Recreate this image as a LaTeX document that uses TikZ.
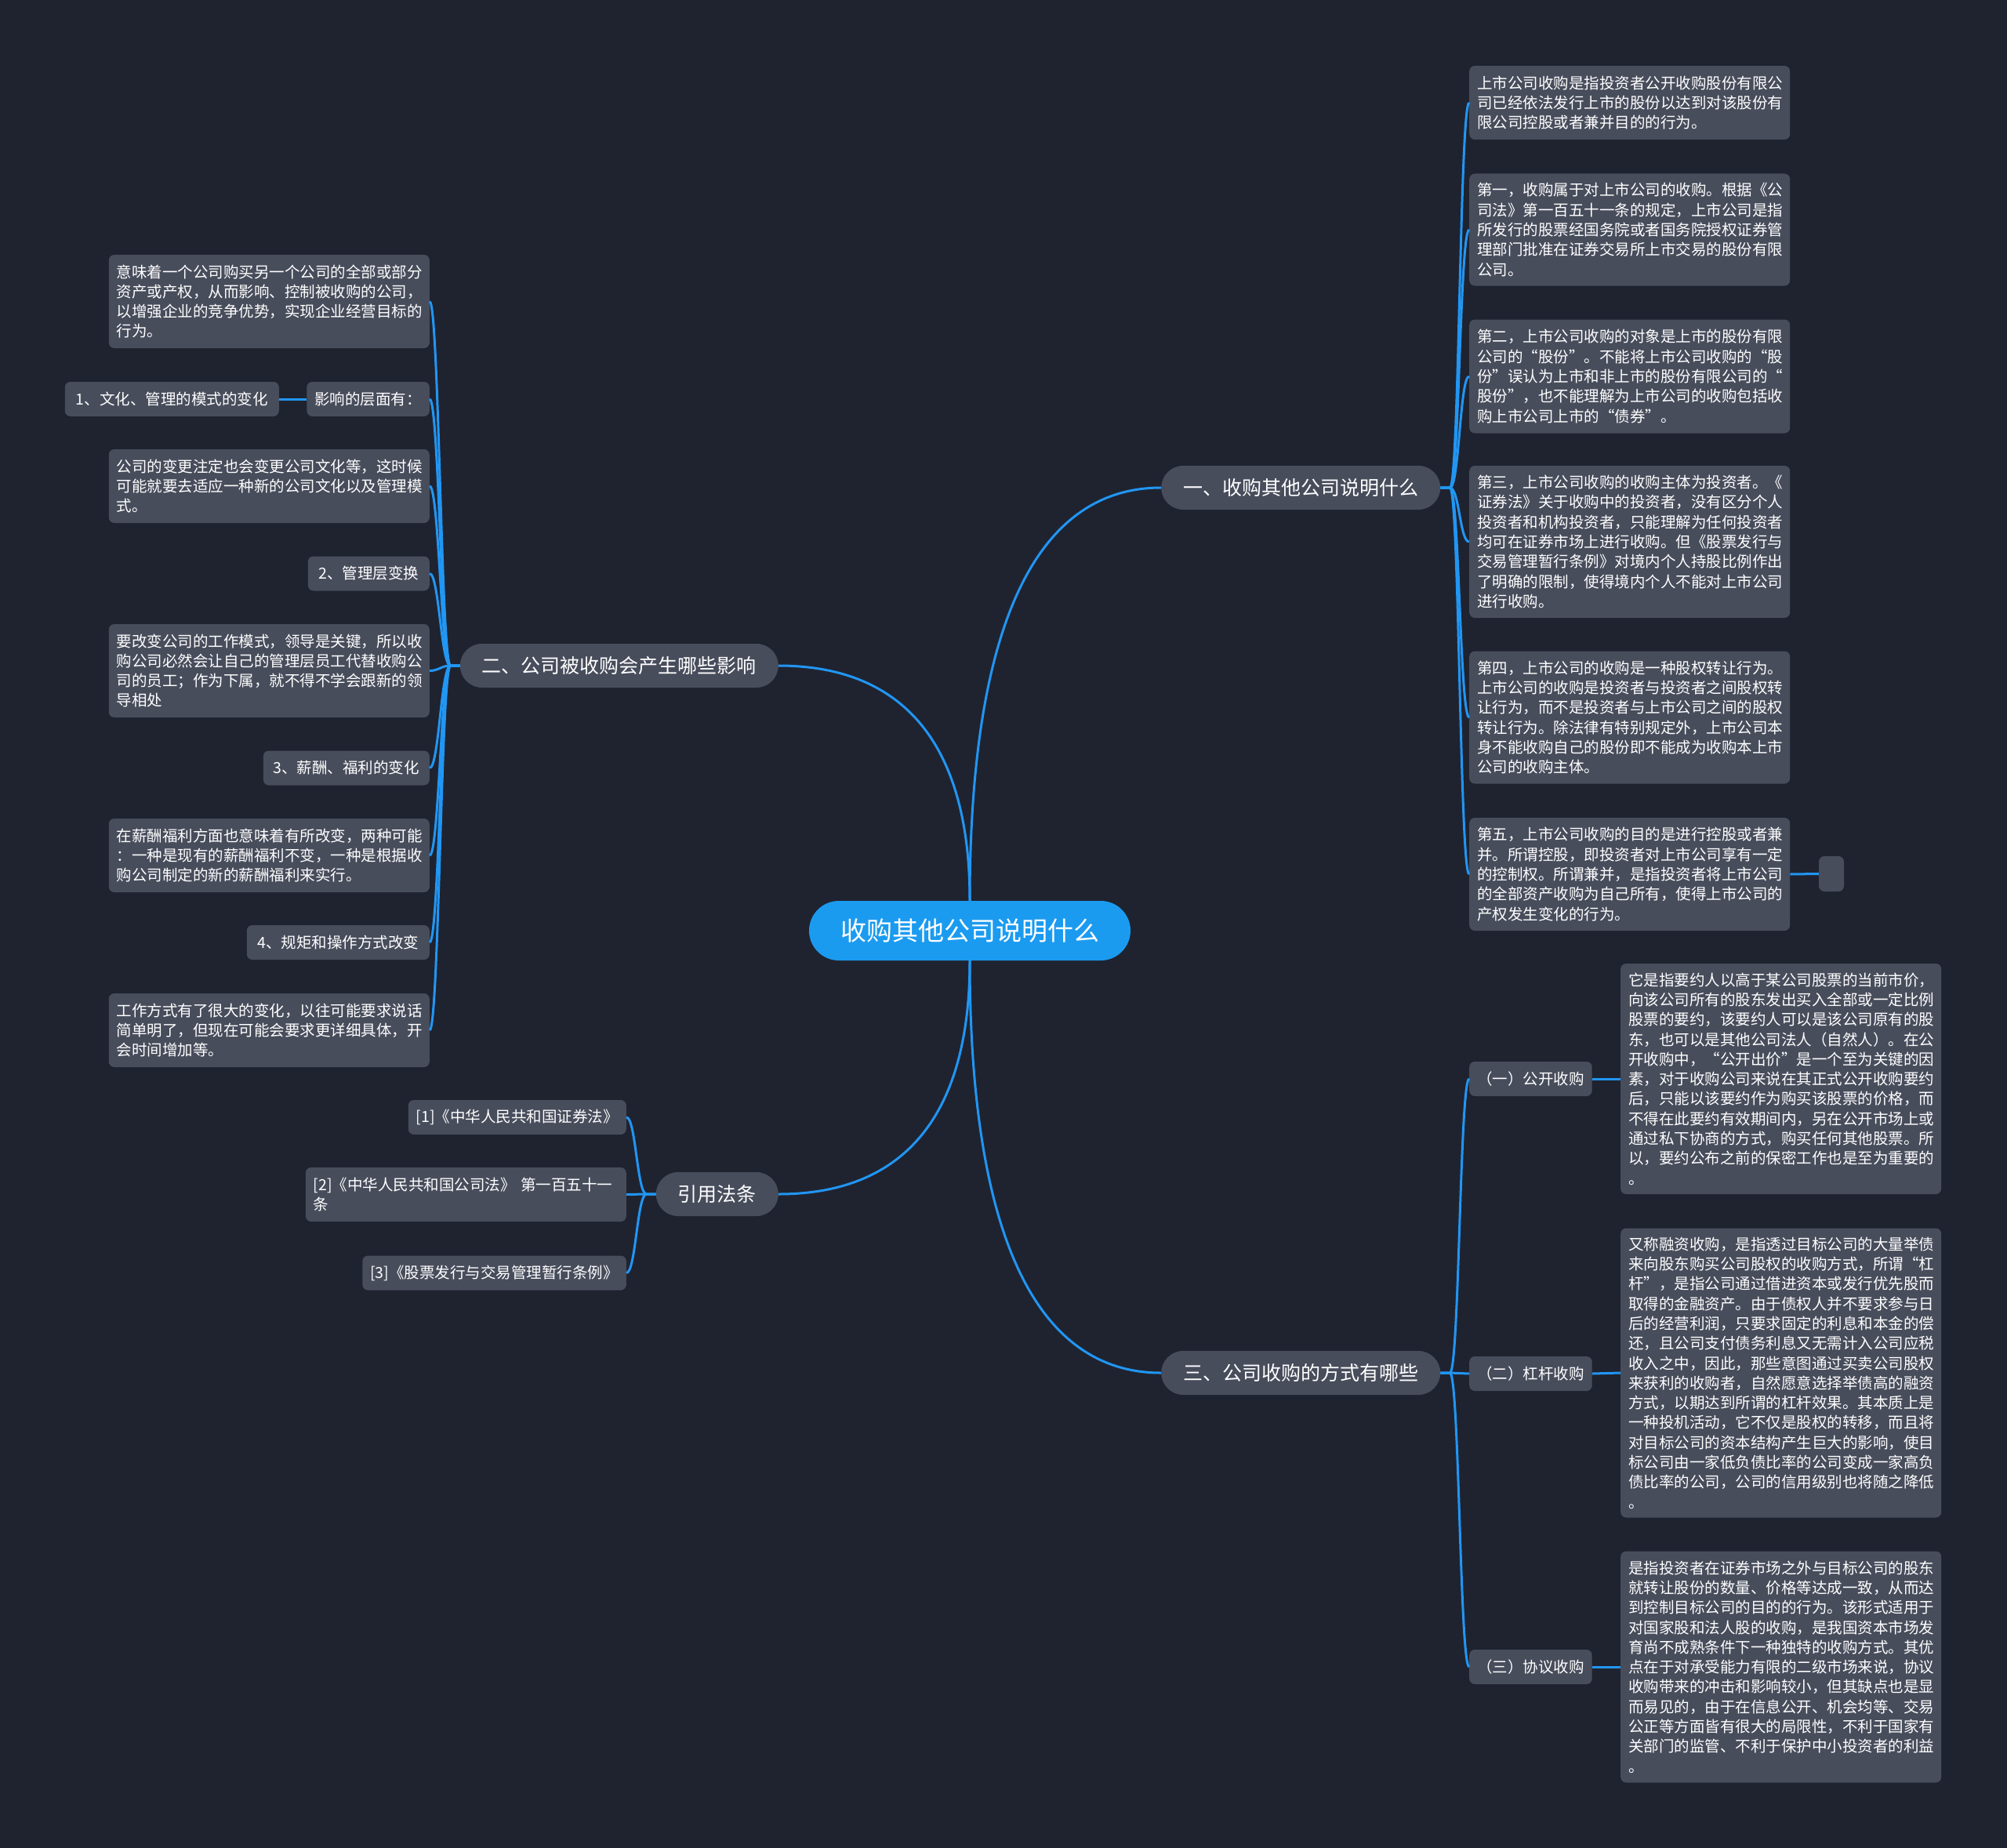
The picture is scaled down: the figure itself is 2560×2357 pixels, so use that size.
\documentclass[tikz,border=0pt]{standalone}
\usepackage{fontspec}
\setmainfont{Noto Sans CJK SC}
\newfontfamily\fwfont[RawFeature=+fwid]{Noto Sans CJK SC}
\newcommand\qL{{\fwfont “}}
\newcommand\qR{{\fwfont ”}}
\definecolor{bgc}{RGB}{31,35,48}
\definecolor{nodegray}{RGB}{72,77,92}
\definecolor{lineblue}{RGB}{33,150,243}
\definecolor{rootblue}{RGB}{27,155,240}
\begin{document}
\begin{tikzpicture}[x=1pt,y=-1pt,
  base/.style={fill=nodegray, text=white, rounded corners=7pt, inner xsep=10pt, inner ysep=0pt, align=left},
  leaf/.style={base, text width=389pt, font=\fontsize{19.5pt}{25.3pt}\selectfont},
  small/.style={base, font=\fontsize{19.5pt}{25.3pt}\selectfont, minimum height=44pt},
  branch/.style={fill=nodegray, text=white, rounded corners=28pt, minimum height=56pt, inner xsep=28pt, inner ysep=0pt, font=\fontsize{25pt}{30pt}\selectfont},
  rootnode/.style={fill=rootblue, text=white, rounded corners=38pt, minimum height=76pt, minimum width=410pt, inner sep=0pt, font=\fontsize{33pt}{40pt}\selectfont},
  link/.style={draw=lineblue, line width=3pt}]
\fill[bgc] (0,0) rectangle (2560,2357);
\useasboundingbox (0,0) rectangle (2560,2357);

% root and branches
\node[rootnode] (root) at (1237,1187) {收购其他公司说明什么};
\node[branch, anchor=west] (b1) at (1481,622) {一、收购其他公司说明什么};
\node[branch, anchor=east] (b2) at (993,849) {二、公司被收购会产生哪些影响};
\node[branch, anchor=west] (b3) at (1481,1751) {三、公司收购的方式有哪些};
\node[branch, anchor=east] (b4) at (993,1523) {引用法条};

% branch 1 children
\node[leaf, anchor=west, minimum height=94pt] (c1) at (1874,131) {上市公司收购是指投资者公开收购股份有限公\\司已经依法发行上市的股份以达到对该股份有\\限公司控股或者兼并目的的行为。};
\node[leaf, anchor=west, minimum height=143pt] (c2) at (1874,293) {第一，收购属于对上市公司的收购。根据《公\\司法》第一百五十一条的规定，上市公司是指\\所发行的股票经国务院或者国务院授权证券管\\理部门批准在证券交易所上市交易的股份有限\\公司。};
\node[leaf, anchor=west, minimum height=145pt] (c3) at (1874,480) {第二，上市公司收购的对象是上市的股份有限\\公司的\qL 股份\qR 。不能将上市公司收购的\qL 股\\份\qR 误认为上市和非上市的股份有限公司的\qL\\股份\qR ，也不能理解为上市公司的收购包括收\\购上市公司上市的\qL 债券\qR 。};
\node[leaf, anchor=west, minimum height=194pt] (c4) at (1874,691) {第三，上市公司收购的收购主体为投资者。《\\证券法》关于收购中的投资者，没有区分个人\\投资者和机构投资者，只能理解为任何投资者\\均可在证券市场上进行收购。但《股票发行与\\交易管理暂行条例》对境内个人持股比例作出\\了明确的限制，使得境内个人不能对上市公司\\进行收购。};
\node[leaf, anchor=west, minimum height=169pt] (c5) at (1874,915) {第四，上市公司的收购是一种股权转让行为。\\上市公司的收购是投资者与投资者之间股权转\\让行为，而不是投资者与上市公司之间的股权\\转让行为。除法律有特别规定外，上市公司本\\身不能收购自己的股份即不能成为收购本上市\\公司的收购主体。};
\node[leaf, anchor=west, minimum height=144pt] (c6) at (1874,1115) {第五，上市公司收购的目的是进行控股或者兼\\并。所谓控股，即投资者对上市公司享有一定\\的控制权。所谓兼并，是指投资者将上市公司\\的全部资产收购为自己所有，使得上市公司的\\产权发生变化的行为。};
\node[base, minimum width=32pt, minimum height=45pt, inner sep=0pt] (c6x) at (2336,1114.5) {};

% branch 3 children
\node[small, anchor=west, minimum width=155pt] (g1) at (1874,1376) {（一）公开收购};
\node[small, anchor=west, minimum width=155pt] (g2) at (1874,1752) {（二）杠杆收购};
\node[small, anchor=west, minimum width=155pt] (g3) at (1874,2126) {（三）协议收购};
\node[leaf, anchor=west, minimum height=294pt] (d1) at (2067,1376) {它是指要约人以高于某公司股票的当前市价，\\向该公司所有的股东发出买入全部或一定比例\\股票的要约，该要约人可以是该公司原有的股\\东，也可以是其他公司法人（自然人）。在公\\开收购中，\qL 公开出价\qR 是一个至为关键的因\\素，对于收购公司来说在其正式公开收购要约\\后，只能以该要约作为购买该股票的价格，而\\不得在此要约有效期间内，另在公开市场上或\\通过私下协商的方式，购买任何其他股票。所\\以，要约公布之前的保密工作也是至为重要的\\。};
\node[leaf, anchor=west, minimum height=369pt] (d2) at (2067,1751) {又称融资收购，是指透过目标公司的大量举债\\来向股东购买公司股权的收购方式，所谓\qL 杠\\杆\qR ，是指公司通过借进资本或发行优先股而\\取得的金融资产。由于债权人并不要求参与日\\后的经营利润，只要求固定的利息和本金的偿\\还，且公司支付债务利息又无需计入公司应税\\收入之中，因此，那些意图通过买卖公司股权\\来获利的收购者，自然愿意选择举债高的融资\\方式，以期达到所谓的杠杆效果。其本质上是\\一种投机活动，它不仅是股权的转移，而且将\\对目标公司的资本结构产生巨大的影响，使目\\标公司由一家低负债比率的公司变成一家高负\\债比率的公司，公司的信用级别也将随之降低\\。};
\node[leaf, anchor=west, minimum height=295pt] (d3) at (2067,2126) {是指投资者在证券市场之外与目标公司的股东\\就转让股份的数量、价格等达成一致，从而达\\到控制目标公司的目的的行为。该形式适用于\\对国家股和法人股的收购，是我国资本市场发\\育尚不成熟条件下一种独特的收购方式。其优\\点在于对承受能力有限的二级市场来说，协议\\收购带来的冲击和影响较小，但其缺点也是显\\而易见的，由于在信息公开、机会均等、交易\\公正等方面皆有很大的局限性，不利于国家有\\关部门的监管、不利于保护中小投资者的利益\\。};

% branch 2 children
\node[leaf, anchor=east, minimum height=119pt] (e1) at (548,384.5) {意味着一个公司购买另一个公司的全部或部分\\资产或产权，从而影响、控制被收购的公司，\\以增强企业的竞争优势，实现企业经营目标的\\行为。};
\node[small, anchor=east, minimum width=155pt] (e2) at (548,509) {影响的层面有：};
\node[small, anchor=east, minimum width=273pt] (e2a) at (356,509) {1、文化、管理的模式的变化};
\node[leaf, anchor=east, minimum height=94pt] (e3) at (548,620) {公司的变更注定也会变更公司文化等，这时候\\可能就要去适应一种新的公司文化以及管理模\\式。};
\node[small, anchor=east, minimum width=155pt] (e4) at (548,731.5) {2、管理层变换};
\node[leaf, anchor=east, minimum height=119pt] (e5) at (548,855.5) {要改变公司的工作模式，领导是关键，所以收\\购公司必然会让自己的管理层员工代替收购公\\司的员工；作为下属，就不得不学会跟新的领\\导相处};
\node[small, anchor=east, minimum width=212pt] (e6) at (548,979.5) {3、薪酬、福利的变化};
\node[leaf, anchor=east, minimum height=94pt] (e7) at (548,1091) {在薪酬福利方面也意味着有所改变，两种可能\\：一种是现有的薪酬福利不变，一种是根据收\\购公司制定的新的薪酬福利来实行。};
\node[small, anchor=east, minimum width=233pt] (e8) at (548,1202) {4、规矩和操作方式改变};
\node[leaf, anchor=east, minimum height=94pt] (e9) at (548,1314) {工作方式有了很大的变化，以往可能要求说话\\简单明了，但现在可能会要求更详细具体，开\\会时间增加等。};

% branch 4 children
\node[small, anchor=east, minimum width=277pt] (f1) at (799,1425) {[1]《中华人民共和国证券法》};
\node[leaf, anchor=east, minimum height=69pt] (f2) at (799,1523.5) {[2]《中华人民共和国公司法》~第一百五十一\\条};
\node[small, anchor=east, minimum width=336pt] (f3) at (799,1623.5) {[3]《股票发行与交易管理暂行条例》};

% connectors from root
\draw[link] (root.north) .. controls (1237,780) and (1330,622) .. (b1.west);
\draw[link] (root.north) .. controls (1237,939) and (1144,849) .. (b2.east);
\draw[link] (root.south) .. controls (1237,1593) and (1330,1751) .. (b3.west);
\draw[link] (root.south) .. controls (1237,1434) and (1144,1523) .. (b4.east);

% branch connectors
\foreach \n in {c1,c2,c3,c4,c5,c6}
  \draw[link] (b1.east) -- ++(12,0) .. controls +(12,0) and +(-12,0) .. (\n.west);
\draw[link] (c6.east) -- (c6x.west);
\foreach \n in {g1,g2,g3}
  \draw[link] (b3.east) -- ++(12,0) .. controls +(12,0) and +(-12,0) .. (\n.west);
\draw[link] (g1.east) -- (d1.west);
\draw[link] (g2.east) -- (d2.west);
\draw[link] (g3.east) -- (d3.west);
\foreach \n in {e1,e2,e3,e4,e5,e6,e7,e8,e9}
  \draw[link] (b2.west) -- ++(-12,0) .. controls +(-12,0) and +(12,0) .. (\n.east);
\draw[link] (e2.west) -- (e2a.east);
\foreach \n in {f1,f2,f3}
  \draw[link] (b4.west) -- ++(-12,0) .. controls +(-12,0) and +(12,0) .. (\n.east);
\end{tikzpicture}
\end{document}
